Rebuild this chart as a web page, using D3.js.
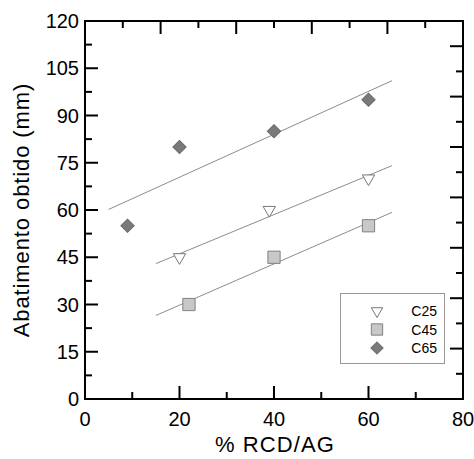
<!DOCTYPE html>
<html><head><meta charset="utf-8">
<script src="https://cdn.jsdelivr.net/npm/d3@7"></script>
<style>body{margin:0;background:#fff}svg{display:block}</style>
</head><body>
<svg id="c" width="474" height="459"></svg>
<script>
const seriesNames = ["C25", "C45", "C65"];
const c25x = [20, 39, 60];
const c25y = [45, 60, 70];
const c45x = [22, 40, 60];
const c45y = [30, 45, 55];
const c65x = [9, 20, 40, 60];
const c65y = [55, 80, 85, 95];
const fitRanges = [[15, 65], [15, 65], [5, 65]];
const yTicks = [0, 15, 30, 45, 60, 75, 90, 105, 120];
const xTicks = [0, 20, 40, 60, 80];

const W = 474, H = 459;
const m = {l: 85, t: 21, r: 11, b: 60};
const iw = W - m.l - m.r, ih = H - m.t - m.b;
const svg = d3.select("#c");
const g = svg.append("g").attr("transform", `translate(${m.l},${m.t})`);
const x = d3.scaleLinear().domain([0, 80]).range([0, iw]);
const y = d3.scaleLinear().domain([0, 120]).range([ih, 0]);
const xTop = d3.scaleLinear().domain([0, 80]).range([0, iw]);
const yRight = d3.scaleLinear().domain([0, 15]).range([ih, 0]);
const font = "Liberation Sans, Arial, sans-serif";

// frame
g.append("rect").attr("x", 0).attr("y", 0).attr("width", iw).attr("height", ih)
  .attr("fill", "none").attr("stroke", "#000").attr("stroke-width", 2);

function ticks(axis, scale, vals, len) {
  const a = g.append("g").attr("stroke", "#000").attr("stroke-width", 2);
  vals.forEach(v => {
    const p = scale(v);
    if (axis === "b") a.append("line").attr("x1", p).attr("x2", p).attr("y1", ih).attr("y2", ih - len);
    if (axis === "t") a.append("line").attr("x1", p).attr("x2", p).attr("y1", 0).attr("y2", len);
    if (axis === "l") a.append("line").attr("y1", p).attr("y2", p).attr("x1", 0).attr("x2", len);
    if (axis === "r") a.append("line").attr("y1", p).attr("y2", p).attr("x1", iw).attr("x2", iw - len);
  });
}
const MAJ = 13, MIN = 7;
ticks("b", x, [20, 40, 60], MAJ);
ticks("b", x, [10, 30, 50, 70], MIN);
ticks("l", y, [15, 30, 45, 60, 75, 90, 105], MAJ);
ticks("l", y, d3.range(7.5, 120, 15), MIN);
ticks("t", xTop, [16, 32, 48, 64], MAJ);
ticks("t", xTop, [8, 24, 40, 56, 72], MIN);
ticks("r", yRight, [2, 4, 6, 8, 10, 12, 14], MAJ);
ticks("r", yRight, [1, 3, 5, 7, 9, 11, 13], MIN);

// tick labels
g.append("g").selectAll("text").data(yTicks).join("text")
  .attr("x", -6).attr("y", d => y(d)).attr("dy", "0.36em")
  .attr("text-anchor", "end").attr("font-family", font).attr("font-size", 20)
  .text(d => d);
g.append("g").selectAll("text").data(xTicks).join("text")
  .attr("x", d => x(d)).attr("y", ih + 27)
  .attr("text-anchor", "middle").attr("font-family", font).attr("font-size", 20)
  .text(d => d);

// axis titles
svg.append("text").attr("x", m.l + iw / 2 + 1).attr("y", 452)
  .attr("text-anchor", "middle").attr("font-family", font).attr("font-size", 22)
  .attr("letter-spacing", 1.1)
  .text("% RCD/AG");
svg.append("text").attr("transform", `translate(29,${m.t + ih / 2}) rotate(-90)`)
  .attr("text-anchor", "middle").attr("font-family", font).attr("font-size", 22)
  .attr("letter-spacing", 0.9)
  .text("Abatimento obtido (mm)");

// series
const series = [
  {name: seriesNames[0], xs: c25x, ys: c25y, sym: d3.symbolTriangle, size: 66, rot: 180, fill: "#fff", stroke: "#777"},
  {name: seriesNames[1], xs: c45x, ys: c45y, sym: d3.symbolSquare, size: 150, rot: 0, fill: "#c8c8c8", stroke: "#808080"},
  {name: seriesNames[2], xs: c65x, ys: c65y, sym: d3.symbolSquare, size: 88, rot: 45, fill: "#7a7a7a", stroke: "#6a6a6a"}
];

function fit(xs, ys) {
  const mx = d3.mean(xs), my = d3.mean(ys);
  const sxy = d3.sum(xs, (v, i) => (v - mx) * (ys[i] - my));
  const sxx = d3.sum(xs, v => (v - mx) ** 2);
  const b = sxy / sxx;
  return {a: my - b * mx, b};
}

const line = d3.line().x(d => x(d[0])).y(d => y(d[1]));
series.forEach((s, i) => {
  const f = fit(s.xs, s.ys);
  const pts = fitRanges[i].map(v => [v, f.a + f.b * v]);
  g.append("path").attr("d", line(pts)).attr("fill", "none").attr("stroke", "#8c8c8c").attr("stroke-width", 1);
});
series.forEach(s => {
  const sym = d3.symbol().type(s.sym).size(s.size);
  g.append("g").selectAll("path").data(s.xs.map((v, i) => [v, s.ys[i]])).join("path")
    .attr("transform", d => `translate(${x(d[0])},${y(d[1])}) rotate(${s.rot})`)
    .attr("d", sym()).attr("fill", s.fill).attr("stroke", s.stroke).attr("stroke-width", 1);
});

// legend
const lg = svg.append("g").attr("transform", "translate(340,293)");
lg.append("rect").attr("x", 0.5).attr("y", 0.5).attr("width", 104).attr("height", 70)
  .attr("fill", "#fff").attr("stroke", "#999").attr("stroke-width", 1);
series.forEach((s, i) => {
  const cy = 18 + i * 18.5;
  const sym = d3.symbol().type(s.sym).size(s.size * 0.85);
  lg.append("path").attr("transform", `translate(37,${cy}) rotate(${s.rot})`)
    .attr("d", sym()).attr("fill", s.fill).attr("stroke", s.stroke);
  lg.append("text").attr("x", 97).attr("y", cy).attr("dy", "0.36em")
    .attr("text-anchor", "end").attr("font-family", font).attr("font-size", 14)
    .text(s.name);
});
</script>
</body></html>
